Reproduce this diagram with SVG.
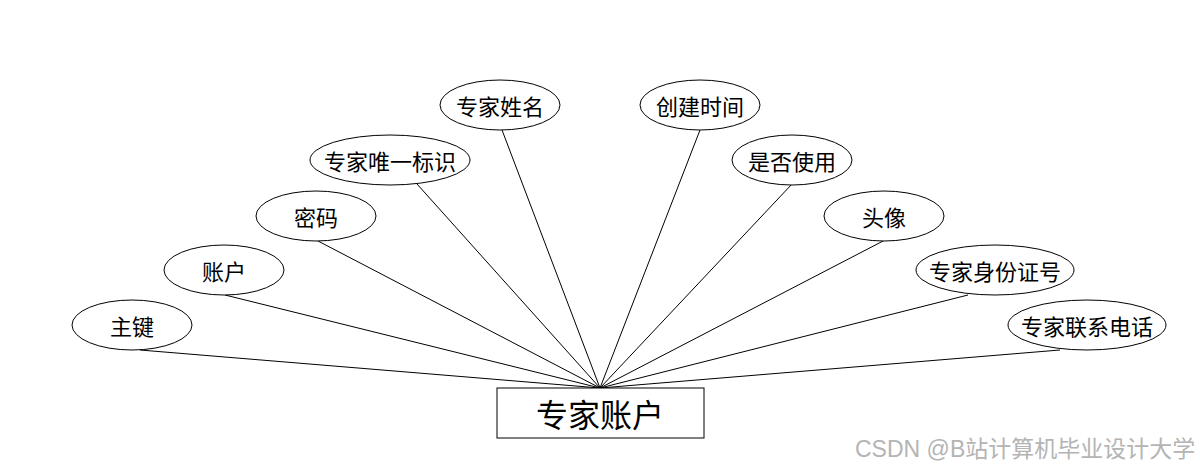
<svg xmlns="http://www.w3.org/2000/svg" width="1200" height="468" viewBox="0 0 1200 468">
<style>
.attr ellipse{fill:#fff;stroke:#000;stroke-width:1}
.attr text{font-family:"Microsoft YaHei","Noto Sans CJK SC",sans-serif;font-size:22px;fill:#000;text-anchor:middle;dominant-baseline:central}
.ent rect{fill:#fff;stroke:#000;stroke-width:1}
.ent text{font-family:"Microsoft YaHei","Noto Sans CJK SC",sans-serif;font-size:32px;fill:#000;text-anchor:middle;dominant-baseline:central}
.conn line{stroke:#000;stroke-width:1}
.wm{font-family:"Liberation Sans","Noto Sans CJK SC",sans-serif;font-size:23px;fill:#b4b4b4}
</style>
<rect width="1200" height="468" fill="#fff"/>
<g id="connectors" class="conn">
<line x1="140" y1="350" x2="600" y2="388"/>
<line x1="225" y1="295" x2="600" y2="388"/>
<line x1="318" y1="241" x2="600" y2="388"/>
<line x1="417" y1="184" x2="600" y2="388"/>
<line x1="502" y1="130" x2="600" y2="388"/>
<line x1="700" y1="130" x2="600" y2="388"/>
<line x1="792" y1="184" x2="600" y2="388"/>
<line x1="885" y1="240" x2="600" y2="388"/>
<line x1="968" y1="295" x2="600" y2="388"/>
<line x1="1060" y1="350" x2="600" y2="388"/>
</g>
<g id="n-zhujian" class="attr"><ellipse cx="132" cy="325" rx="60" ry="25"/><text x="132" y="325">主键</text></g>
<g id="n-zhanghu" class="attr"><ellipse cx="224" cy="270" rx="60" ry="25"/><text x="224" y="270">账户</text></g>
<g id="n-mima" class="attr"><ellipse cx="316" cy="216" rx="60" ry="25"/><text x="316" y="216">密码</text></g>
<g id="n-weiyi" class="attr"><ellipse cx="390" cy="160" rx="80" ry="25"/><text x="390" y="160">专家唯一标识</text></g>
<g id="n-xingming" class="attr"><ellipse cx="500" cy="105" rx="60" ry="25"/><text x="500" y="105">专家姓名</text></g>
<g id="n-chuangjian" class="attr"><ellipse cx="700" cy="105" rx="60" ry="25"/><text x="700" y="105">创建时间</text></g>
<g id="n-shifou" class="attr"><ellipse cx="792" cy="160" rx="60" ry="25"/><text x="792" y="160">是否使用</text></g>
<g id="n-touxiang" class="attr"><ellipse cx="884" cy="216" rx="60" ry="25"/><text x="884" y="216">头像</text></g>
<g id="n-shenfen" class="attr"><ellipse cx="995" cy="270" rx="79" ry="25"/><text x="995" y="270">专家身份证号</text></g>
<g id="n-dianhua" class="attr"><ellipse cx="1087" cy="325" rx="79" ry="25"/><text x="1087" y="325">专家联系电话</text></g>
<g id="n-entity" class="ent"><rect x="497" y="388" width="207" height="50"/><text x="600" y="413">专家账户</text></g>
<text class="wm" x="855" y="457">CSDN @B站计算机毕业设计大学</text>
</svg>
